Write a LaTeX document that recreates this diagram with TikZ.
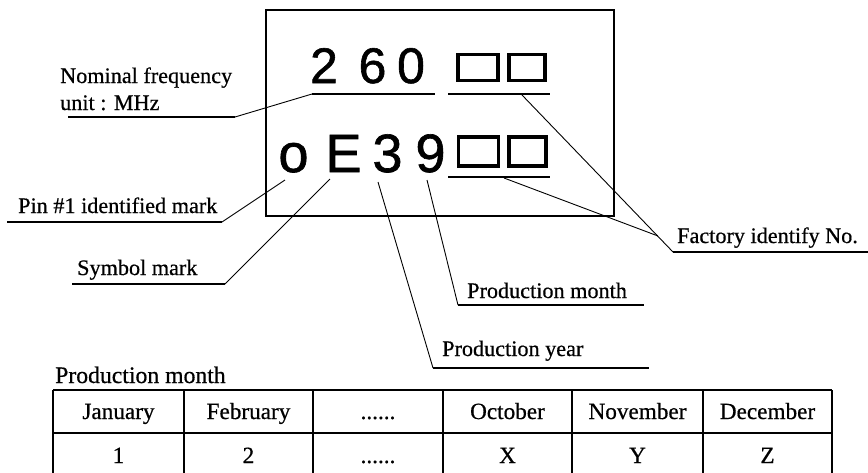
\documentclass[tikz,border=0pt]{standalone}
\usepackage{fontspec}
\setmainfont{Liberation Serif}[BoldFont=Liberation Serif, BoldFeatures={FakeBold=0.6}]
\newfontfamily\marksans{Liberation Sans}[FakeBold=1.2]
\begin{document}
\begin{tikzpicture}[x=1pt,y=-1pt,
  lbl/.style={anchor=base west,inner sep=0pt,font=\bfseries\fontsize{22.2}{26}\selectfont},
  tabcaption/.style={anchor=base west,inner sep=0pt,font=\bfseries\fontsize{23.7}{28}\selectfont},
  cell/.style={anchor=base,inner sep=0pt,font=\bfseries\fontsize{23.2}{27}\selectfont},
  markA/.style={anchor=base,inner sep=0pt,font=\marksans\fontsize{50}{56}\selectfont},
  markB/.style={anchor=base,inner sep=0pt,font=\marksans\fontsize{54}{60}\selectfont},
  slot/.style={draw,line width=3.8pt},
  uline/.style={line width=1.3pt},
  leader/.style={line width=0.9pt},
  grid/.style={line width=1.6pt}]
\clip (0,0) rectangle (868,472);

% marking face
\draw[line width=1.4pt] (266,10) rectangle (614,216);

% first line: 260 + two slots
\node[markA] (d2) at (324,83) {2};
\node[markA] (d6) at (372.5,83) {6};
\node[markA] (d0) at (411,83) {0};
\node[slot,minimum width=40pt,minimum height=26pt,inner sep=0pt] (s1) at (478,67.5) {};
\node[slot,minimum width=36pt,minimum height=26pt,inner sep=0pt] (s2) at (527,67.5) {};
\coordinate (u1a) at (312,94);
\coordinate (u1b) at (435,94);
\coordinate (u2a) at (448,94);
\coordinate (u2b) at (550,94);
\draw[uline] (u1a) -- (u1b);
\draw[uline] (u2a) -- (u2b);

% second line: o E 3 9 + two slots
\node[markB] (po) at (293.5,172) {o};
\node[markB] (pe) at (343.5,172) {E};
\node[markB] (py) at (387.5,172) {3};
\node[markB] (pm) at (430.5,172) {9};
\node[slot,minimum width=40pt,minimum height=29pt,inner sep=0pt] (s3) at (478.5,151.5) {};
\node[slot,minimum width=37pt,minimum height=29pt,inner sep=0pt] (s4) at (527.5,151.5) {};
\coordinate (u3a) at (448,177);
\coordinate (u3b) at (550,177);
\draw[uline] (u3a) -- (u3b);

% labels
\node[lbl] (nom1) at (60,83) {Nominal frequency};
\node[lbl] (nom2) at (60,110) {unit : MHz};
\node[lbl] (pin) at (18,213) {Pin \#1 identified mark};
\node[lbl] (sym) at (77,275) {Symbol mark};
\node[lbl] (fac) at (677,243) {Factory identify No.};
\node[lbl] (mon) at (467,298) {Production month};
\node[lbl] (yr) at (442,356) {Production year};

% leader lines
\coordinate (nA) at (68,117);  \coordinate (nB) at (235,117);
\draw[uline] (nA) -- (nB);
\draw[leader] (nB) -- (u1a);

\coordinate (pA) at (7,222);  \coordinate (pB) at (222,222);
\coordinate (pT) at (285,180);
\draw[uline] (pA) -- (pB);
\draw[leader] (pB) -- (pT);

\coordinate (sA) at (72,284);  \coordinate (sB) at (225,284);
\coordinate (sT) at (330,179);
\draw[uline] (sA) -- (sB);
\draw[leader] (sB) -- (sT);

\coordinate (yT) at (378,182);
\coordinate (yA) at (433,368);  \coordinate (yB) at (649,368);
\draw[leader] (yT) -- (yA);
\draw[uline] (yA) -- (yB);

\coordinate (mT) at (427,180);
\coordinate (mA) at (458,305);  \coordinate (mB) at (644,305);
\draw[leader] (mT) -- (mA);
\draw[uline] (mA) -- (mB);

\coordinate (fT1) at (522,95);
\coordinate (fT2) at (504,178);
\coordinate (fJ) at (658,236);
\coordinate (fA) at (673,252);  \coordinate (fB) at (868,252);
\draw[leader] (fT1) -- (fA);
\draw[leader] (fT2) -- (fJ);
\draw[uline] (fA) -- (fB);

% production month table
\node[tabcaption] (tcap) at (55,383) {Production month};
\draw[grid] (53,390) -- (832,390);
\draw[grid] (53,433) -- (832,433);
\draw[grid] (53,480) -- (832,480);
\foreach \x in {53,184,313,443,572,703,832}
  \draw[grid] (\x,390) -- (\x,480);
\node[cell] (h1) at (118.5,419) {January};
\node[cell] (h2) at (248.5,419) {February};
\node[cell] (h3) at (378,419) {......};
\node[cell] (h4) at (507.5,419) {October};
\node[cell] (h5) at (637.5,419) {November};
\node[cell] (h6) at (767.5,419) {December};
\node[cell] (c1) at (118.5,463) {1};
\node[cell] (c2) at (248.5,463) {2};
\node[cell] (c3) at (378,463) {......};
\node[cell] (c4) at (507.5,463) {X};
\node[cell] (c5) at (637.5,463) {Y};
\node[cell] (c6) at (767.5,463) {Z};
\end{tikzpicture}
\end{document}
